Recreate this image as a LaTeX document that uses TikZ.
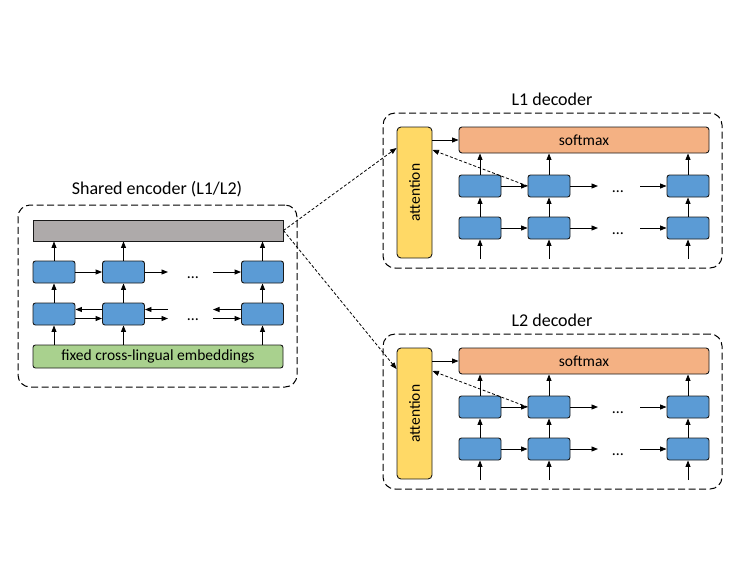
\documentclass[tikz,border=0pt]{standalone}
\usepackage{fontspec}
\setmainfont{Carlito}
\usetikzlibrary{arrows.meta}
\definecolor{cblue}{HTML}{5B9BD5}
\definecolor{cgray}{HTML}{AEAAAA}
\definecolor{cgreen}{HTML}{A9D18E}
\definecolor{corange}{HTML}{F4B183}
\definecolor{cyellow}{HTML}{FFD966}
\tikzset{
  cell/.style={draw=black!90, fill=cblue, rounded corners=2.5pt, line width=0.9pt, minimum width=42pt, minimum height=22pt, inner sep=0pt},
  bar/.style={draw=black!90, line width=0.9pt, inner sep=0pt, font=\fontsize{15.5}{18}\selectfont},
  frame/.style={draw=black, dash pattern=on 7pt off 3.5pt, rounded corners=12pt, line width=1pt, inner sep=0pt},
  ttl/.style={font=\fontsize{18}{20}\selectfont},
  dots/.style={anchor=base, inner sep=0pt, font=\fontsize{16}{18}\selectfont},
  arr/.style={-{Triangle[length=6.5pt,width=5pt]}, line width=0.9pt, black},
  darr/.style={-{Triangle[length=6.5pt,width=5pt]}, line width=0.8pt, black, dash pattern=on 3pt off 2pt},
}
\begin{document}
\begin{tikzpicture}[x=1pt,y=-1pt]
\useasboundingbox (0,0) rectangle (738,571);
% ---------- encoder ----------
\node[frame, minimum width=279pt, minimum height=182pt] (encbox) at (157.5,296) {};
\node[ttl] (enctitle) at (157,189) {Shared encoder (L1/L2)};
\node[bar, fill=cgray, minimum width=250pt, minimum height=21pt] (gray) at (158,230.5) {};
\node[bar, fill=cgreen, rounded corners=2.5pt, minimum width=250pt, minimum height=23pt] (green) at (158,356.5) {fixed cross-lingual embeddings};
\node[cell] (ea1) at (54,272) {};
\node[cell] (eb1) at (123.5,272) {};
\node[cell] (ec1) at (262.5,272) {};
\node[cell] (ea2) at (54,314) {};
\node[cell] (eb2) at (123.5,314) {};
\node[cell] (ec2) at (262.5,314) {};
\node[dots] (ed1) at (193,278) {\dots};
\node[dots] (ed2) at (193,320) {\dots};
\coordinate (el1) at (168,272);
\coordinate (er1) at (213,272);
\coordinate (el2) at (168,314);
\coordinate (er2) at (213,314);
% horizontal
\draw[arr] (ea1.east) -- (eb1.west);
\draw[arr] (eb1.east) -- (el1);
\draw[arr] (er1) -- (ec1.west);
\draw[arr] ([yshift=4.5pt]eb2.west) -- ([yshift=4.5pt]ea2.east);
\draw[arr] ([yshift=-4.5pt]ea2.east) -- ([yshift=-4.5pt]eb2.west);
\draw[arr] ([yshift=4.5pt]el2) -- ([yshift=4.5pt]eb2.east);
\draw[arr] ([yshift=-4.5pt]eb2.east) -- ([yshift=-4.5pt]el2);
\draw[arr] ([yshift=4.5pt]ec2.west) -- ([yshift=4.5pt]er2);
\draw[arr] ([yshift=-4.5pt]er2) -- ([yshift=-4.5pt]ec2.west);
% vertical
\foreach \c in {a,b,c}{
  \draw[arr] (e\c2 |- green.north) -- (e\c2.south);
  \draw[arr] (e\c2.north) -- (e\c1.south);
  \draw[arr] (e\c1.north) -- (e\c1 |- gray.south);
}
% ---------- decoders ----------
\foreach \i/\s in {1/0pt,2/-221pt}{
\begin{scope}[yshift=\s]
  \node[frame, minimum width=339pt, minimum height=155pt] (dbox\i) at (552.5,190.5) {};
  \node[ttl] (dtitle\i) at (552,99) {L\i\ decoder};
  \node[bar, fill=cyellow, rounded corners=4pt, minimum width=35pt, minimum height=131pt] (att\i) at (414.5,192.5) {};
  \node[rotate=90, inner sep=0pt, font=\fontsize{15.5}{18}\selectfont] (attl\i) at (att\i.center) {attention};
  \node[bar, fill=corange, rounded corners=3pt, minimum width=250pt, minimum height=26pt] (sm\i) at (584,140) {softmax};
  \node[cell] (da1\i) at (480,186) {};
  \node[cell] (db1\i) at (549,186) {};
  \node[cell] (dc1\i) at (688,186) {};
  \node[cell] (da2\i) at (480,228) {};
  \node[cell] (db2\i) at (549,228) {};
  \node[cell] (dc2\i) at (688,228) {};
  \node[dots] (dd1\i) at (618,192) {\dots};
  \node[dots] (dd2\i) at (618,234) {\dots};
  \coordinate (dl1\i) at (598,186);
  \coordinate (dr1\i) at (640,186);
  \coordinate (dl2\i) at (598,228);
  \coordinate (dr2\i) at (640,228);
  \coordinate (dba\i) at (480,259);
  \coordinate (dbb\i) at (549,259);
  \coordinate (dbc\i) at (688,259);
  \foreach \r in {1,2}{
    \draw[arr] (da\r\i.east) -- (db\r\i.west);
    \draw[arr] (db\r\i.east) -- (dl\r\i);
    \draw[arr] (dr\r\i) -- (dc\r\i.west);
  }
  \foreach \c in {a,b,c}{
    \draw[arr] (db\c\i) -- (d\c2\i.south);
    \draw[arr] (d\c2\i.north) -- (d\c1\i.south);
    \draw[arr] (d\c1\i.north) -- (d\c1\i |- sm\i.south);
  }
  \draw[arr] (att\i.east |- sm\i.west) -- (sm\i.west);
  \draw[darr] (db1\i.west) -- ([yshift=-10pt]att\i.east |- sm\i.west);
  \coordinate (ain\i) at ([yshift=-8pt]att\i.west |- sm\i.west);
\end{scope}
}
\draw[darr] (gray.east) -- (ain1);
\draw[darr] (gray.east) -- (ain2);
\end{tikzpicture}
\end{document}
